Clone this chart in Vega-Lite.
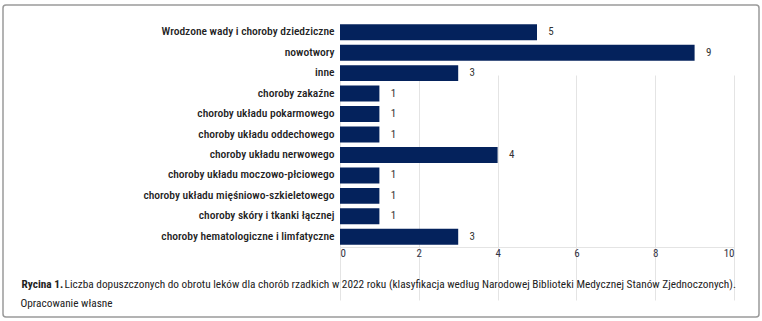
{
  "$schema": "https://vega.github.io/schema/vega-lite/v6.json",
  "width": 756,
  "height": 312,
  "autosize": {"type": "none"},
  "padding": {"left": 3, "top": 5, "right": 3, "bottom": 4},
  "background": "#ffffff",
  "config": {
    "view": {"stroke": "#9a9a9a", "strokeWidth": 1.5, "cornerRadius": 3},
    "font": "Roboto Condensed, Liberation Sans Narrow, DejaVu Sans Condensed, sans-serif"
  },
  "data": {
    "values": [
      {"cat": "Wrodzone wady i choroby dziedziczne", "n": 5},
      {"cat": "nowotwory", "n": 9},
      {"cat": "inne", "n": 3},
      {"cat": "choroby zakaźne", "n": 1},
      {"cat": "choroby układu pokarmowego", "n": 1},
      {"cat": "choroby układu oddechowego", "n": 1},
      {"cat": "choroby układu nerwowego", "n": 4},
      {"cat": "choroby układu moczowo-płciowego", "n": 1},
      {"cat": "choroby układu mięśniowo-szkieletowego", "n": 1},
      {"cat": "choroby skóry i tkanki łącznej", "n": 1},
      {"cat": "choroby hematologiczne i limfatyczne", "n": 3}
    ]
  },
  "encoding": {
    "y": {
      "field": "cat",
      "type": "nominal",
      "sort": null,
      "scale": {"range": [17, 242], "paddingInner": 0.22, "paddingOuter": 0.11},
      "axis": {
        "offset": -337,
        "grid": false,
        "domain": false,
        "ticks": false,
        "labelPadding": 6,
        "labelFont": "Roboto Condensed, Liberation Sans Narrow, DejaVu Sans Condensed, sans-serif",
        "labelFontSize": 11.5,
        "labelFontWeight": 500,
        "labelColor": "#222222",
        "labelLimit": 400,
        "title": "Rycina 1.",
        "titleAngle": 0,
        "titleAlign": "left",
        "titleBaseline": "top",
        "titleX": -319,
        "titleY": 273,
        "titleFontSize": 11.3,
        "titleFontWeight": "bold",
        "titleColor": "#222222",
        "titleFont": "Roboto Condensed, Liberation Sans Narrow, DejaVu Sans Condensed, sans-serif"
      }
    },
    "x": {
      "field": "n",
      "type": "quantitative",
      "scale": {"domain": [0, 10], "range": [337, 731], "nice": false},
      "axis": {
        "offset": -70,
        "values": [0, 2, 4, 6, 8, 10],
        "grid": true,
        "gridColor": "#e4e4e4",
        "gridWidth": 1,
        "domain": true,
        "domainColor": "#e4e4e4",
        "ticks": false,
        "labelPadding": 0,
        "labelFontSize": 11,
        "labelColor": "#333344",
        "labelFont": "Roboto Condensed, Liberation Sans Narrow, DejaVu Sans Condensed, sans-serif",
        "title": ["\u200b\u00a0\u00a0\u00a0\u00a0\u00a0\u00a0\u00a0\u00a0\u00a0\u00a0\u00a0\u00a0\u00a0\u00a0\u00a0\u00a0\u00a0Liczba dopuszczonych do obrotu leków dla chorób rzadkich w 2022 roku (klasyfikacja według Narodowej Biblioteki Medycznej Stanów Zjednoczonych).", "Opracowanie własne"],
        "titleX": 17,
        "titleY": 31,
        "titleAlign": "left",
        "titleAnchor": null,
        "titleBaseline": "top",
        "titleFontSize": 11.3,
        "titleFontWeight": "normal",
        "titleLineHeight": 19,
        "titleColor": "#222222",
        "titleFont": "Roboto Condensed, Liberation Sans Narrow, DejaVu Sans Condensed, sans-serif"
      }
    }
  },
  "layer": [
    {"mark": {"type": "bar", "color": "#04225c"}},
    {
      "mark": {"type": "text", "align": "center", "baseline": "middle", "dx": 14, "fontSize": 11, "color": "#333333"},
      "encoding": {"text": {"field": "n", "type": "quantitative"}}
    }
  ]
}
